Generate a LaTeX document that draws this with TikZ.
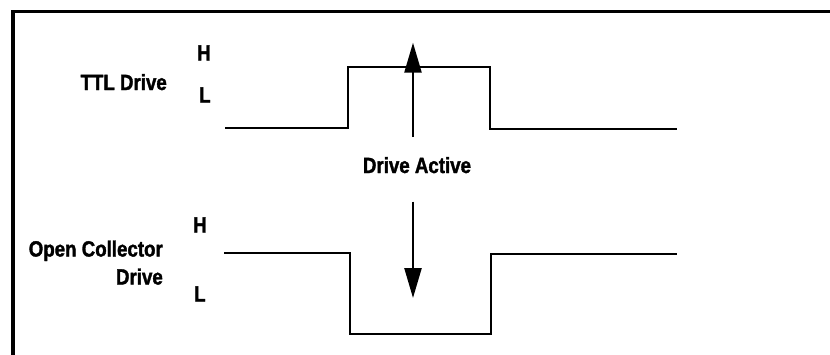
\documentclass[tikz,border=0pt]{standalone}
\usepackage{fontspec}
\setmainfont{Liberation Sans}[FakeStretch=0.85, BoldFeatures={FakeBold=1.6}]
\usetikzlibrary{arrows.meta}
\tikzset{
  lbl/.style={font=\fontsize{22}{26}\selectfont\bfseries, inner sep=0pt},
  sig/.style={line width=2pt, line join=miter},
  frame/.style={line width=3.4pt},
  bigarrow/.style={line width=2.4pt, -{Triangle[length=30pt,width=17pt]}}
}
\begin{document}
\begin{tikzpicture}[x=1pt,y=-1pt]
\useasboundingbox (0,0) rectangle (830,354);
% frame
\coordinate (fr1) at (13,364);
\coordinate (fr2) at (13,11.7);
\coordinate (fr3) at (840,11.7);
\draw[frame] (fr1) -- (fr2) -- (fr3);
% TTL waveform
\coordinate (t0) at (225,128);
\coordinate (t1) at (347.5,128);
\coordinate (t2) at (347.5,67);
\coordinate (t3) at (490,67);
\coordinate (t4) at (490,128.5);
\coordinate (t5) at (677,128.5);
\draw[sig] (t0) -- (t1) -- (t2) -- (t3) -- (t4) -- (t5);
% Open collector waveform
\coordinate (o0) at (224,253);
\coordinate (o1) at (350,253);
\coordinate (o2) at (350,334);
\coordinate (o3) at (490.5,334);
\coordinate (o4) at (490.5,254);
\coordinate (o5) at (677,254);
\draw[sig] (o0) -- (o1) -- (o2) -- (o3) -- (o4) -- (o5);
% labels
\node[lbl, anchor=base east] (ttl) at (167,90) {TTL Drive};
\node[lbl, anchor=base west] (th) at (197,60.5) {H};
\node[lbl, anchor=base west] (tl) at (199,102.5) {L};
\node[lbl, anchor=base east, align=right] (oc1) at (163,256.5) {Open Collector};
\node[lbl, anchor=base east] (oc2) at (163,284.5) {Drive};
\node[lbl, anchor=base west] (oh) at (193,232.5) {H};
\node[lbl, anchor=base west] (ol) at (194,301.5) {L};
\node[lbl, anchor=base] (da) at (417,173) {Drive Active};
% arrows
\coordinate (ua0) at (413,137);
\coordinate (ua1) at (413,42.7);
\coordinate (da0) at (413,201.7);
\coordinate (da1) at (413,298);
\draw[bigarrow] (ua0) -- (ua1);
\draw[bigarrow] (da0) -- (da1);
\end{tikzpicture}
\end{document}
